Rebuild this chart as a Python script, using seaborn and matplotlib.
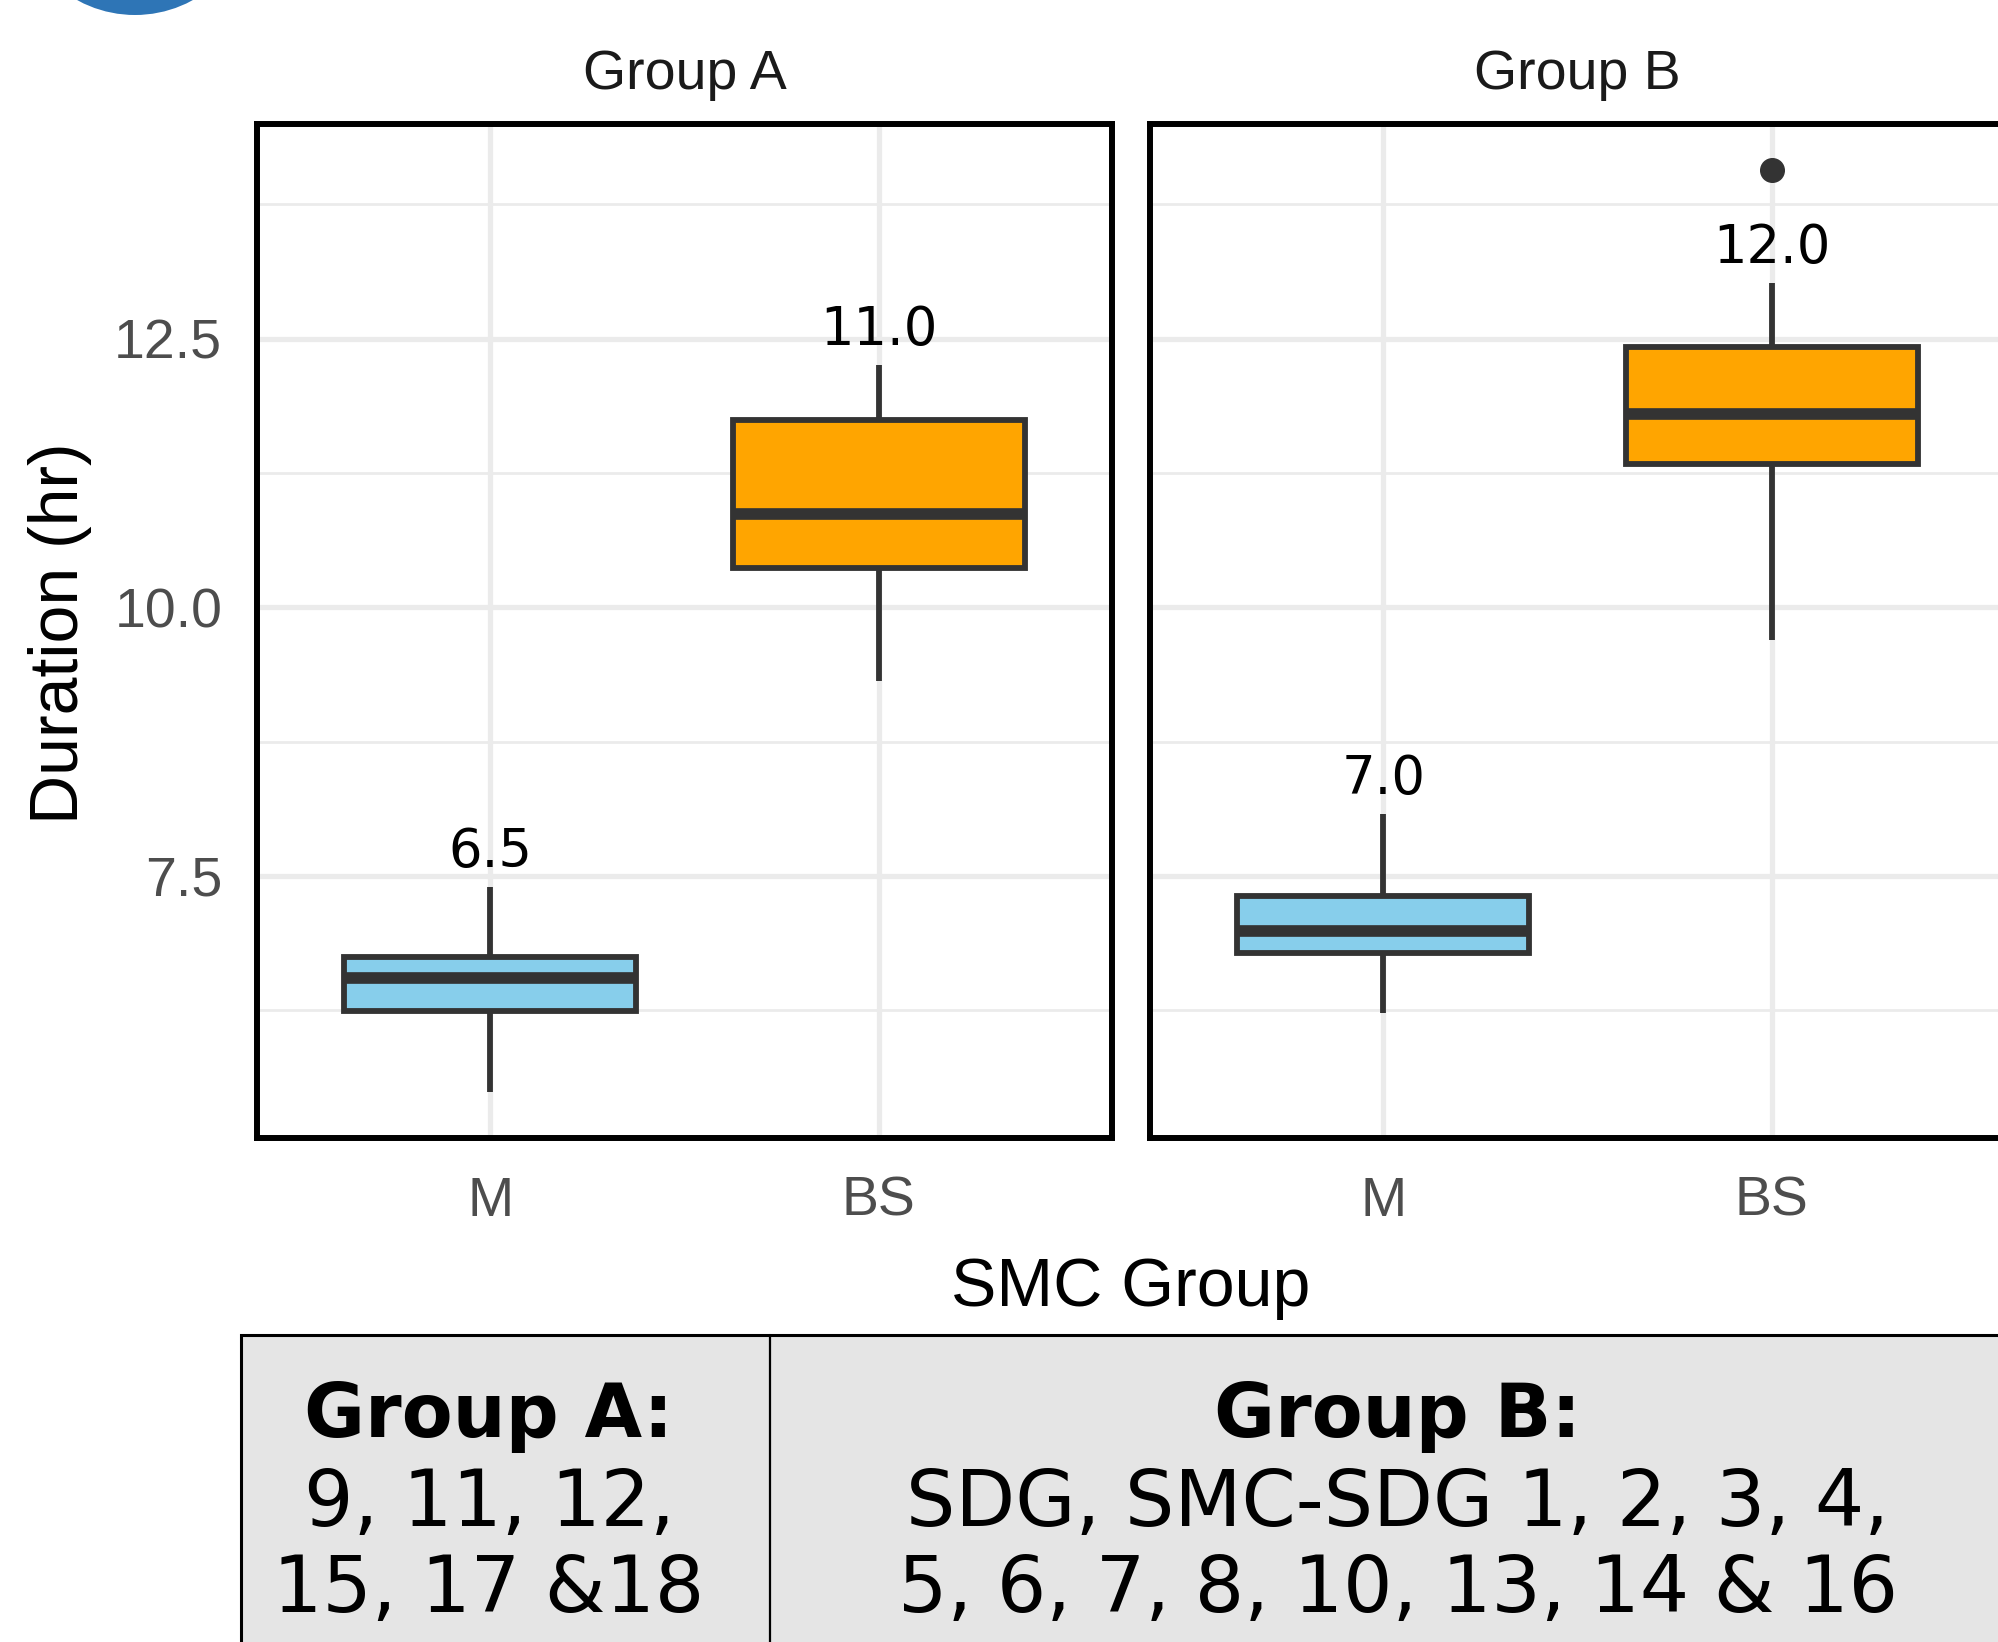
import numpy as np
import pandas as pd
import matplotlib
matplotlib.use("Agg")
import matplotlib.pyplot as plt
from matplotlib.patches import Rectangle, Ellipse
from matplotlib.lines import Line2D
from matplotlib.ticker import FixedLocator
import seaborn as sns

# Duration (hours) summary per SMC group, split into the two facets
facets = ["Group A", "Group B"]
smc_levels = ["M", "BS"]
box_facet = ["Group A", "Group A", "Group B", "Group B"]
box_smc = ["M", "BS", "M", "BS"]
whisker_low = [5.49, 9.31, 6.22, 9.70]
quartile_1 = [6.24, 10.37, 6.78, 11.33]
median = [6.55, 10.87, 6.99, 11.80]
quartile_3 = [6.75, 11.74, 7.31, 12.42]
whisker_high = [7.40, 12.26, 8.08, 13.02]
outliers = [[], [], [], [14.07]]
label_values = [6.5, 11.0, 7.0, 12.0]

y_major = [7.5, 10.0, 12.5]
y_minor = [6.25, 8.75, 11.25, 13.75]

fill_colors = {"M": "#87CEEB", "BS": "#FFA500"}

table_titles = ["Group A:", "Group B:"]
table_line1 = ["9, 11, 12,", "SDG, SMC-SDG 1, 2, 3, 4,"]
table_line2 = ["15, 17 &18", "5, 6, 7, 8, 10, 13, 14 & 16"]

# Observations reproducing each box's five-number summary (plus outliers)
rows = []
for f, s, lo, a, m, b, hi, out in zip(box_facet, box_smc, whisker_low, quartile_1,
                                      median, quartile_3, whisker_high, outliers):
    for v in [lo, a, a, m, m, b, b, hi] + list(out):
        rows.append({"facet": f, "smc": s, "duration": v})
df = pd.DataFrame(rows)

sns.set_theme(style="white")
plt.rcParams["font.family"] = ["Liberation Sans", "DejaVu Sans"]

W, H = 1998, 1642
DPI = 100
fig = plt.figure(figsize=(W / DPI, H / DPI), dpi=DPI)
fig.patch.set_facecolor("white")

def fx(px):
    return px / W

def fy(py):
    return 1 - py / H

panel_left = [257, 1150]
panel_w = 855
panel_top, panel_bot = 124, 1138

all_vals = whisker_low + whisker_high + [v for o in outliers for v in o]
span = max(all_vals) - min(all_vals)
ylim = (min(all_vals) - 0.05 * span, max(all_vals) + 0.05 * span)

grid_col = "#EBEBEB"
line_col = "#333333"

for i, facet in enumerate(facets):
    ax = fig.add_axes([fx(panel_left[i]), fy(panel_bot), fx(panel_w),
                       (panel_bot - panel_top) / H])
    sub = df[df["facet"] == facet]
    sns.boxplot(data=sub, x="smc", y="duration", hue="smc", order=smc_levels,
                hue_order=smc_levels, palette=fill_colors, saturation=1,
                width=0.75, linewidth=4.2, linecolor=line_col, whis=1.5,
                showcaps=False, legend=False, ax=ax,
                medianprops={"linewidth": 8.4, "color": line_col},
                whiskerprops={"linewidth": 4.2, "color": line_col},
                boxprops={"linewidth": 4.2, "edgecolor": line_col},
                flierprops={"marker": "o", "markersize": 17,
                            "markerfacecolor": line_col,
                            "markeredgecolor": line_col})
    ax.set_xlim(-0.6, 1.6)
    ax.set_ylim(*ylim)
    ax.yaxis.set_major_locator(FixedLocator(y_major))
    ax.yaxis.set_minor_locator(FixedLocator(y_minor))
    ax.set_axisbelow(True)
    ax.grid(which="major", axis="both", color=grid_col, linewidth=3.8)
    ax.grid(which="minor", axis="y", color=grid_col, linewidth=2.0)
    for sp in ax.spines.values():
        sp.set_visible(True)
        sp.set_color("black")
        sp.set_linewidth(4.3)
    ax.tick_params(axis="both", which="both", length=0)
    ax.tick_params(axis="x", pad=27, labelsize=40, labelcolor="#4D4D4D")
    ax.tick_params(axis="y", pad=25, labelsize=40, labelcolor="#4D4D4D")
    if i == 0:
        ax.set_yticklabels([f"{v:.1f}" for v in y_major])
    else:
        ax.set_yticklabels([])
    ax.set_xlabel("")
    ax.set_ylabel("")
    ax.set_title(facet, fontsize=40, pad=25, color="#1A1A1A")

    # value labels above the upper whiskers
    for f, s, hi, lab in zip(box_facet, box_smc, whisker_high, label_values):
        if f != facet:
            continue
        ax.annotate(f"{lab:.1f}", xy=(smc_levels.index(s), hi), xytext=(0, 14),
                    textcoords="offset points", ha="center", va="baseline",
                    fontsize=38, family="DejaVu Sans", color="black")

fig.text(fx(60), fy(633), "Duration (hr)", rotation=90, ha="center", va="center",
         fontsize=49, color="black")
fig.text(fx(1131), fy(1306), "SMC Group", ha="center", va="baseline",
         fontsize=49, color="black")

# membership table under the plot
tab_top, tab_left, tab_div = 1335, 241, 770
fig.patches.append(Rectangle((fx(tab_left), fy(H + 40)), fx(2100 - tab_left),
                             (H + 40 - tab_top) / H, transform=fig.transFigure,
                             facecolor="#E5E5E5", edgecolor="black", linewidth=2.2,
                             zorder=0))
fig.lines.append(Line2D([fx(tab_div), fx(tab_div)], [fy(H + 40), fy(tab_top)],
                        transform=fig.transFigure, color="black", linewidth=1.6))
col_centers = [489, 1398]
for cx, t, l1, l2 in zip(col_centers, table_titles, table_line1, table_line2):
    fig.text(fx(cx), fy(1437), t, ha="center", va="baseline", fontsize=53.5,
             fontweight="bold", family="DejaVu Sans", color="black")
    fig.text(fx(cx), fy(1526), l1, ha="center", va="baseline", fontsize=56,
             family="DejaVu Sans", color="black")
    fig.text(fx(cx), fy(1612), l2, ha="center", va="baseline", fontsize=56,
             family="DejaVu Sans", color="black")

# panel badge at the top-left corner
fig.patches.append(Ellipse((fx(135), fy(-105)), 240 / W, 240 / H,
                           transform=fig.transFigure, facecolor="#2E75B6",
                           edgecolor="none"))

fig.savefig("out.png", dpi=DPI, facecolor="white")
